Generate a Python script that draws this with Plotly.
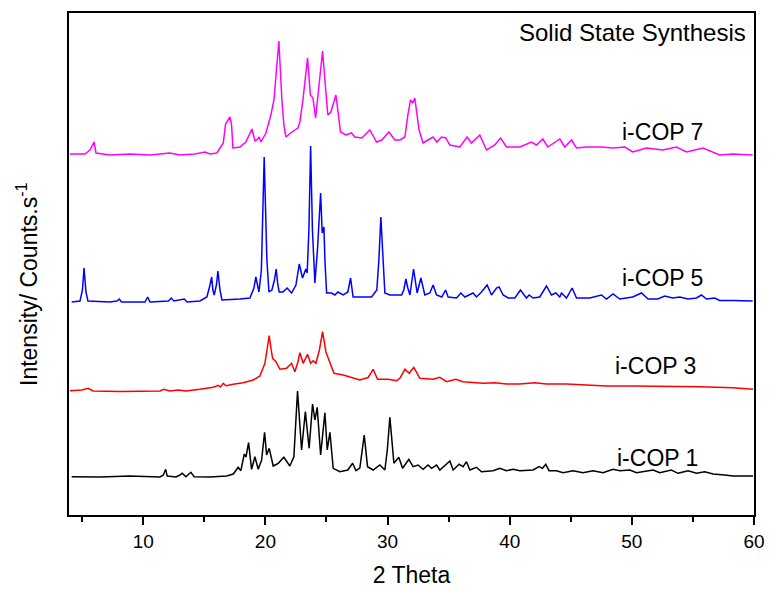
import plotly.graph_objects as go

# ---- data (2-theta, stacked intensity in arbitrary units) ----
cop7_x = [4.0, 5.23, 5.64, 5.97, 6.13, 7.27, 8.91, 10.55, 12.18, 13.0, 14.23, 15.05, 15.46, 16.03, 16.55,
          16.74, 17.1, 17.23, 17.34, 17.91, 18.4, 18.9, 19.14, 19.3, 19.49, 19.63, 20.04, 20.45, 20.7, 20.82,
          21.1, 21.35, 21.51, 21.68, 22.17, 22.66, 22.82, 23.07, 23.45, 23.68, 23.89, 24.11, 24.38, 24.68,
          24.87, 25.11, 25.36, 25.77, 26.15, 26.59, 27.05, 27.32, 27.9, 28.55, 29.1, 29.53, 30.11, 30.6,
          31.01, 31.42, 31.66, 31.88, 32.07, 32.23, 32.58, 32.91, 33.3, 33.73, 34.03, 34.42, 34.77, 35.1,
          35.92, 36.51, 36.87, 37.55, 38.1, 38.78, 39.25, 39.74, 40.83, 41.78, 42.19, 42.71, 43.12, 44.1,
          44.51, 45.06, 45.47, 46.28, 47.51, 48.44, 49.42, 50.07, 51.2, 52.53, 53.65, 54.47, 55.83, 56.62,
          57.19, 58.26, 59.89]
cop7_y = [361, 361, 365, 373, 362, 360, 361, 360, 362, 360, 361, 363, 361, 362, 372,
          391, 398, 390, 367, 368, 373, 386, 374, 375, 378, 373, 382, 400, 415, 432,
          474, 415, 390, 378, 383, 387, 393, 415, 457, 420, 417, 397, 430, 464,
          435, 400, 403, 420, 383, 380, 382, 378, 377, 385, 373, 375, 383, 375,
          375, 378, 400, 415, 412, 417, 385, 372, 375, 378, 373, 378, 377, 370,
          368, 378, 372, 380, 365, 370, 377, 368, 368, 373, 370, 376, 368, 376,
          368, 375, 367, 368, 368, 367, 368, 363, 367, 365, 368, 363, 367, 363,
          360, 361, 360]

cop5_x = [4.14, 4.82, 5.02, 5.15, 5.31, 5.47, 7.27, 7.84, 8.04, 8.22, 10.14, 10.36, 10.55, 12.06, 12.29,
          12.51, 13.36, 13.58, 14.64, 15.21, 15.46, 15.6, 15.7, 15.81, 15.99, 16.11, 16.28, 16.44, 17.91,
          18.73, 19.06, 19.22, 19.47, 19.67, 19.9, 20.12, 20.29, 20.53, 20.74, 20.88, 21.02, 21.13, 21.43,
          21.78, 22.14, 22.5, 22.77, 23.04, 23.31, 23.42, 23.56, 23.7, 23.85, 24.05, 24.26, 24.52, 24.65,
          24.79, 24.87, 25.01, 25.42, 25.69, 25.93, 26.37, 26.75, 26.97, 27.18, 28.69, 29.12, 29.29, 29.45,
          29.62, 29.78, 30.19, 31.15, 31.33, 31.5, 31.66, 31.83, 32.13, 32.42, 32.73, 33.05, 33.46, 33.73,
          34.01, 34.44, 34.75, 34.96, 35.65, 36.0, 36.33, 36.65, 37.0, 37.28, 37.69, 38.15, 38.51, 38.92,
          39.13, 39.46, 39.87, 40.42, 40.88, 41.37, 41.59, 41.92, 42.46, 43.01, 43.42, 43.77, 44.1, 44.24,
          44.65, 45.11, 45.47, 46.56, 46.96, 47.51, 47.92, 48.46, 49.01, 49.66, 50.07, 50.79, 51.33, 52.12,
          52.69, 53.35, 53.92, 54.6, 55.29, 55.7, 56.1, 56.78, 57.19, 58.26, 59.89]
cop5_y = [213, 214, 225, 247, 223, 214, 213, 214, 216, 213, 213, 218, 213, 214, 217,
          214, 216, 213, 214, 218, 230, 238, 225, 220, 230, 244, 225, 215, 216,
          217, 227, 238, 223, 245, 358, 255, 223, 225, 235, 246, 230, 223, 223,
          227, 222, 230, 251, 237, 246, 242, 285, 369, 285, 232, 265, 322, 282,
          288, 255, 222, 222, 220, 223, 220, 223, 237, 218, 218, 225, 255, 298,
          255, 222, 220, 220, 225, 236, 227, 220, 246, 222, 237, 220, 222, 230,
          220, 218, 225, 218, 217, 222, 218, 220, 222, 218, 223, 230, 220, 227,
          228, 220, 217, 217, 225, 217, 220, 217, 218, 229, 220, 222, 218, 222,
          217, 227, 217, 217, 218, 220, 216, 221, 216, 217, 218, 222, 216, 216,
          219, 217, 218, 216, 217, 220, 216, 217, 214.5, 214.5, 214]

cop3_x = [4.0, 4.98, 5.5, 5.88, 8.09, 10.55, 11.37, 11.69, 12.18, 12.86, 13.49, 14.64, 15.29, 15.73,
          16.14, 16.32, 16.55, 16.77, 17.37, 18.18, 19.0, 19.55, 19.96, 20.16, 20.31, 20.45, 20.59,
          20.86, 21.19, 21.73, 22.14, 22.41, 22.66, 22.82, 23.09, 23.45, 23.7, 23.91, 24.13, 24.42,
          24.68, 24.95, 25.22, 25.61, 26.37, 26.92, 27.73, 28.41, 28.82, 29.18, 30.05, 30.74, 31.01,
          31.42, 31.77, 32.15, 32.64, 33.73, 34.28, 34.83, 35.59, 36.16, 37.0, 37.82, 38.78, 39.74,
          40.83, 42.05, 43.01, 44.65, 46.28, 47.92, 50.1, 52.83, 55.56, 58.28, 59.92]
cop3_y = [124.3, 125, 126.7, 124, 123.5, 123.5, 124, 125.7, 124, 125, 124, 125.7, 127, 127.7,
          129.7, 128, 131.7, 129.3, 130.7, 132.3, 135, 139, 151.7, 167, 179.3, 167, 156.7,
          153.3, 145.7, 146.7, 151.7, 143.3, 153, 162.3, 151.7, 160.7, 151.7, 154.3, 151.7, 165,
          183.3, 163.3, 155, 141.7, 140, 137.7, 135, 137.5, 145.7, 135.7, 135.7, 134.3, 136.7,
          145.7, 141.7, 147.7, 136.7, 135.7, 137.7, 133.3, 135.7, 133.3, 132.7, 131.7, 132.3, 131,
          131, 132.3, 131, 131, 130, 129, 129, 129, 128.3, 127.3, 125.7]

cop1_x = [4.14, 6.46, 8.91, 11.37, 11.65, 11.83, 11.96, 12.68, 13.0, 13.19, 13.49, 13.9, 14.17, 15.46,
          16.82, 17.37, 17.77, 17.99, 18.27, 18.41, 18.62, 18.87, 19.14, 19.41, 19.69, 19.93, 20.1,
          20.31, 20.64, 21.05, 21.51, 22.0, 22.33, 22.63, 22.96, 23.27, 23.58, 23.86, 24.05, 24.24,
          24.52, 24.87, 25.06, 25.28, 25.55, 26.1, 26.75, 27.14, 27.41, 27.73, 28.09, 28.36, 28.82,
          29.37, 29.78, 29.98, 30.19, 30.39, 30.52, 30.92, 31.23, 31.74, 32.09, 32.5, 32.91, 33.32,
          33.6, 34.01, 34.28, 35.1, 35.37, 35.86, 36.19, 36.46, 36.74, 37.28, 37.69, 38.64, 39.19,
          39.74, 40.28, 40.83, 41.91, 42.41, 42.68, 42.95, 43.22, 43.83, 44.37, 45.19, 46.0, 46.82,
          47.64, 48.46, 49.01, 49.83, 50.38, 51.74, 52.28, 53.24, 53.78, 54.6, 55.29, 55.97, 56.65,
          57.6, 58.28, 59.92]
cop1_y = [38.3, 38, 39, 38, 40, 45.7, 39, 38, 40, 41.7, 38.3, 42.7, 38.3, 38,
          39, 41, 47.7, 44.3, 61, 58, 72.3, 45.7, 58.3, 45.7, 55, 82.7, 60,
          66.7, 49, 51.7, 57.7, 49, 58.3, 124, 65, 103.3, 66.7, 111, 95, 107.7,
          60, 102.3, 65, 82.7, 46.7, 43.3, 45, 51.7, 44.3, 47, 80, 48.3, 45,
          50, 45, 65, 97.7, 65, 51.7, 57.7, 46.7, 55.7, 48.3, 50, 45.7, 50,
          46.7, 50, 45, 54, 45, 50.7, 48.3, 53.3, 45, 47.7, 43.3, 44.3, 46.7,
          44.3, 45.7, 44.3, 45, 48.3, 46.7, 50.7, 44.3, 44.3, 42.3, 44.3, 42.3, 44.3,
          42.3, 45.7, 44.3, 45, 42.3, 45, 42.3, 45, 41.7, 44.3, 41.7, 43.3, 41,
          40, 39, 39]

series_names = ["i-COP 1", "i-COP 3", "i-COP 5", "i-COP 7"]
series_x = [cop1_x, cop3_x, cop5_x, cop7_x]
series_y = [cop1_y, cop3_y, cop5_y, cop7_y]
series_colors = ["#000000", "#FF0000", "#0000FF", "#FF00FF"]
label_pos = [(48.6, 57), (48.46, 149), (49.07, 237), (49.07, 383)]

FONT = "Arial, Liberation Sans, sans-serif"

W, H = 769, 592
ML, MR, MT, MB = 69, 15, 13, 77

fig = go.Figure()
for name, xs, ys, col in zip(series_names, series_x, series_y, series_colors):
    fig.add_trace(go.Scatter(x=xs, y=ys, mode="lines", name=name,
                             line=dict(color=col, width=1.5), showlegend=False))

for name, (lx, ly) in zip(series_names, label_pos):
    fig.add_annotation(x=lx, y=ly, xref="x", yref="y", text=name, showarrow=False,
                       xanchor="left", yanchor="middle", font=dict(family=FONT, size=23, color="#000"))

fig.add_annotation(x=59.48, y=483, xref="x", yref="y", text="Solid State Synthesis", showarrow=False,
                   xanchor="right", yanchor="middle", font=dict(family=FONT, size=24, color="#000"))

# y-axis title placed as rotated annotation (pixel position converted to paper fraction)
fig.add_annotation(x=(27 - ML) / (W - ML - MR), y=(H - MB - 284) / (H - MT - MB),
                   xref="paper", yref="paper", text="Intensity/ Counts.s<sup>-1</sup>",
                   showarrow=False, textangle=-90, xanchor="center", yanchor="middle",
                   font=dict(family=FONT, size=23, color="#000"))

fig.update_layout(
    width=W, height=H, autosize=False,
    margin=dict(l=ML, r=MR, t=MT, b=MB, pad=0),
    paper_bgcolor="white", plot_bgcolor="white",
    font=dict(family=FONT, color="#000"),
    xaxis=dict(range=[3.92, 60], tick0=0, dtick=10, ticks="outside", ticklen=8, tickwidth=1.5,
               tickcolor="#000", showline=True, linecolor="#000", linewidth=1.5, mirror=True,
               showgrid=False, zeroline=False, automargin=False, tickfont=dict(size=19, family=FONT),
               minor=dict(tick0=0, dtick=5, ticks="outside", ticklen=5, tickwidth=1.5, tickcolor="#000", showgrid=False),
               title=dict(text="2 Theta", font=dict(size=23, family=FONT), standoff=16)),
    yaxis=dict(range=[0, 502], showticklabels=False, ticks="", showline=True, linecolor="#000",
               linewidth=1.5, mirror=True, showgrid=False, zeroline=False, automargin=False),
)

fig.write_html("out.html")
